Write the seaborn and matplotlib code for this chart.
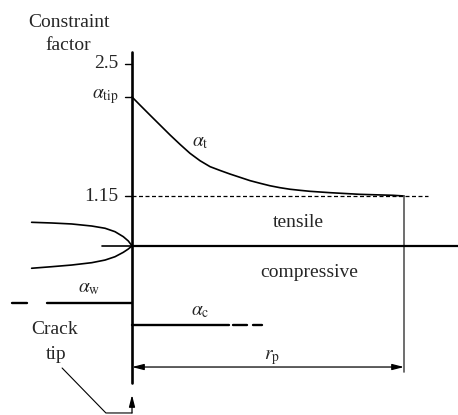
import numpy as np
import pandas as pd
import matplotlib
matplotlib.use('Agg')
import matplotlib.pyplot as plt
import seaborn as sns

# Constraint factor curve (distance ahead of tip in units of r_p)
curve_x = [0.0, 0.029, 0.066, 0.103, 0.140, 0.177, 0.213, 0.250, 0.287,
           0.324, 0.360, 0.397, 0.434, 0.471, 0.507, 0.544, 0.581, 0.618,
           0.654, 0.691, 0.728, 0.838, 0.960, 1.0]
curve_y = [2.163, 2.081, 1.978, 1.876, 1.774, 1.677, 1.587, 1.511, 1.450,
           1.411, 1.375, 1.341, 1.307, 1.280, 1.255, 1.235, 1.219, 1.208,
           1.198, 1.191, 1.184, 1.167, 1.157, 1.15]

# Crack profile behind the tip
crack_x = [-0.369, -0.295, -0.222, -0.148, -0.099, -0.0625, -0.032, -0.0136, 0.0]
crack_upper = [0.881, 0.874, 0.864, 0.843, 0.820, 0.785, 0.734, 0.690, 0.64]
crack_lower = [0.411, 0.427, 0.444, 0.468, 0.495, 0.529, 0.574, 0.608, 0.64]

# levels
alpha_tip = 2.163
alpha_plateau = 1.15
zero_level = 0.64
alpha_w = 0.056
alpha_c = -0.169
r_p = 1.0
tick_values = [2.5, alpha_tip, alpha_plateau]
tick_labels = ['2.5', r'$\alpha_{\rm tip}$', '1.15']

sns.set_style("white")
plt.rcParams['font.family'] = ['Liberation Serif', 'DejaVu Serif']
plt.rcParams['mathtext.fontset'] = 'stix'

fig = plt.figure(figsize=(4.58, 4.15), dpi=100)
ax = fig.add_axes([0, 0, 1, 1])
ax.set_xlim(-0.4853, 1.1985)
ax.set_ylim(-1.0897, 3.1545)
ax.axis('off')

fs = 14
k = 'black'

# vertical axis
ax.plot([0, 0], [-0.762, 2.623], color=k, lw=1.9)
# ticks
for v, lab in zip(tick_values, tick_labels):
    ax.plot([-0.024, 0], [v, v], color=k, lw=1.0)
    ax.text(-0.05, v, lab, ha='right', va='center', fontsize=fs)

ax.text(-0.23, 2.92, 'Constraint', ha='center', va='center', fontsize=14)
ax.text(-0.235, 2.69, 'factor', ha='center', va='center', fontsize=14)

# alpha_t curve
df_curve = pd.DataFrame({'x': curve_x, 'y': curve_y})
sns.lineplot(data=df_curve, x='x', y='y', ax=ax, color=k, lw=1.2,
             sort=False, estimator=None)
ax.text(0.25, 1.70, r'$\alpha_{\rm t}$', ha='center', va='center', fontsize=fs)

# 1.15 dashed line
ax.plot([0, 1.088], [alpha_plateau, alpha_plateau], color=k, lw=0.9,
        dashes=(3.2, 2.0))
# r_p boundary
ax.plot([r_p, r_p], [alpha_plateau, -0.65], color='#555555', lw=1.2)

# tensile / compressive divider
ax.plot([-0.11, 0], [zero_level, zero_level], color=k, lw=1.2)
ax.plot([0, 1.1985], [zero_level, zero_level], color=k, lw=1.6)
ax.text(0.61, 0.88, 'tensile', ha='center', va='center', fontsize=fs)
ax.text(0.65, 0.365, 'compressive', ha='center', va='center', fontsize=fs)

# crack flanks
for flank in (crack_upper, crack_lower):
    df_flank = pd.DataFrame({'x': crack_x, 'y': flank})
    sns.lineplot(data=df_flank, x='x', y='y', ax=ax, color=k, lw=1.2,
                 sort=False, estimator=None)

# alpha_w
ax.plot([-0.3125, 0], [alpha_w, alpha_w], color=k, lw=1.7)
ax.plot([-0.441, -0.386], [alpha_w, alpha_w], color=k, lw=1.7)
ax.text(-0.158, 0.205, r'$\alpha_{\rm w}$', ha='center', va='center', fontsize=fs)

# alpha_c
ax.plot([0, 0.357], [alpha_c, alpha_c], color=k, lw=1.7)
ax.plot([0.371, 0.423], [alpha_c, alpha_c], color=k, lw=1.7)
ax.plot([0.445, 0.478], [alpha_c, alpha_c], color=k, lw=1.7)
ax.text(0.25, -0.03, r'$\alpha_{\rm c}$', ha='center', va='center', fontsize=fs)

# r_p arrow
ax.annotate('', xy=(r_p, -0.599), xytext=(0, -0.599),
            arrowprops=dict(arrowstyle='<|-|>,head_length=0.7,head_width=0.18',
                            color=k, lw=0.9, shrinkA=0, shrinkB=0))
ax.text(0.515, -0.5, r'$r_{\rm p}$', ha='center', va='center', fontsize=fs)

# crack tip pointer
ax.text(-0.283, -0.22, 'Crack', ha='center', va='center', fontsize=fs)
ax.text(-0.28, -0.476, 'tip', ha='center', va='center', fontsize=fs)
ax.plot([-0.257, -0.096, 0], [-0.609, -1.069, -1.069], color=k, lw=0.8)
ax.annotate('', xy=(0, -0.885), xytext=(0, -1.069),
            arrowprops=dict(arrowstyle='-|>,head_length=0.7,head_width=0.18',
                            color=k, lw=0.9, shrinkA=0, shrinkB=0))

fig.savefig('out.png', dpi=100, facecolor='white')
